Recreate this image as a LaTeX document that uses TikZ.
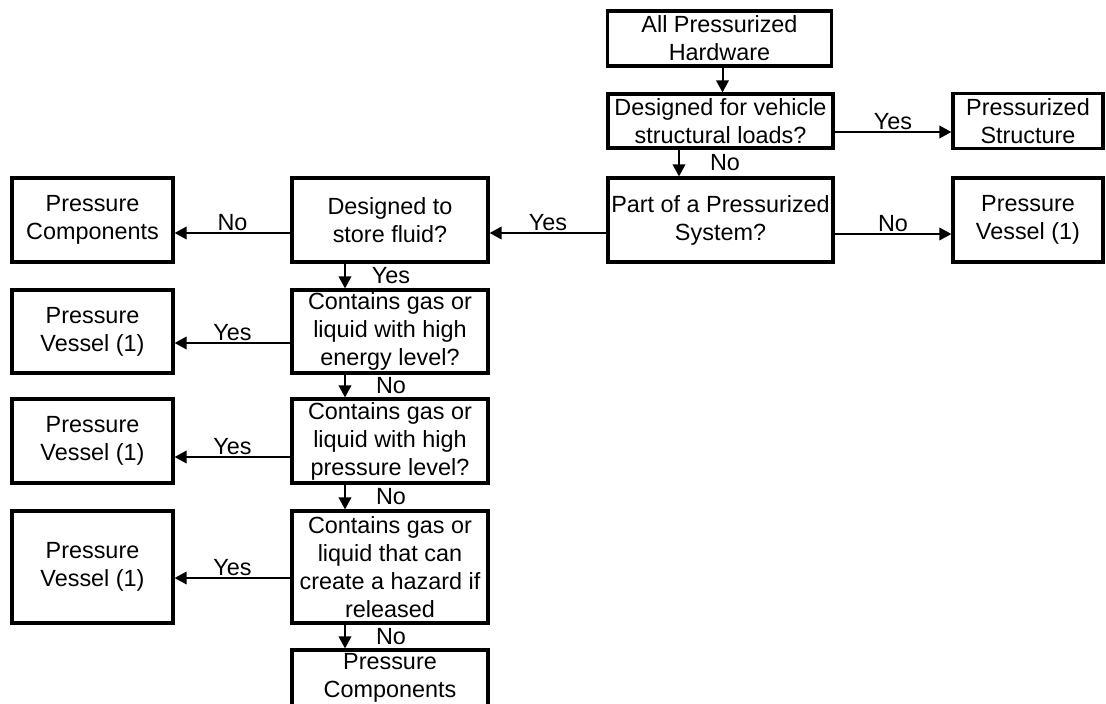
\documentclass[tikz,border=0pt]{standalone}
\usepackage{fontspec}
\setmainfont{Liberation Sans}
\usetikzlibrary{arrows.meta,calc}

\begin{document}
\begin{tikzpicture}[x=1pt,y=-1pt,line width=2pt,>={Triangle[length=12pt,width=12.5pt]},font=\fontsize{23.4}{28}\selectfont]
		\tikzstyle{flow_box}=[draw, rectangle, line width=3.2pt, align=center, inner sep=1pt];
		\tikzstyle{flow_q}=[flow_box, minimum width=196pt, minimum height=84pt];
		\tikzstyle{flow_side}=[flow_box, minimum width=161pt, minimum height=84pt];
		\tikzstyle{side_label}=[anchor=base, yshift=3pt, inner sep=0pt];
		\tikzstyle{down_label}=[xshift=46pt, inner sep=0pt];

		\useasboundingbox (0,0) rectangle (1106,704);

		% top column
		\node[flow_box, minimum width=224pt, minimum height=55pt] (hw) at (719.5,38.5) {All Pressurized\\Hardware};
		\node[flow_box, minimum width=225pt, minimum height=54pt] (loads) at (720.5,121) {Designed for vehicle\\structural loads?};
		\node[flow_box, minimum width=150pt, minimum height=55pt] (struct) at (1028,121) {Pressurized\\Structure};
		\node[flow_box, minimum width=225pt, minimum height=84pt] (sys) at (720.5,220) {Part of a Pressurized\\System?};
		\node[flow_box, minimum width=150pt, minimum height=84pt] (pv_sys) at (1028,220) {Pressure\\Vessel (1)};

		% left column
		\node[flow_q] (store) at (390,220) {Designed to\\store fluid?};
		\node[flow_side] (pc_store) at (92.5,220) {Pressure\\Components};
		\node[flow_q, minimum height=83pt] (energy) at (390,331.5) {Contains gas or\\liquid with high\\energy level?};
		\node[flow_side, minimum height=83pt] (pv_energy) at (92.5,331.5) {Pressure\\Vessel (1)};
		\node[flow_q] (press) at (390,441) {Contains gas or\\liquid with high\\pressure level?};
		\node[flow_side] (pv_press) at (92.5,441) {Pressure\\Vessel (1)};
		\node[flow_q, minimum height=112pt] (hazard) at (390,567) {Contains gas or\\liquid that can\\create a hazard if\\released};
		\node[flow_side, minimum height=112pt] (pv_hazard) at (92.5,567) {Pressure\\Vessel (1)};
		\node[flow_q, minimum height=56pt] (pc_end) at (390,678) {Pressure\\Components};

		\draw[->] ($(hw.south)+(3,0)$) -- ($(loads.north)+(2,0)$);
		\draw[->] ($(loads.east)+(0,11)$) -- ($(struct.west)+(0,11)$) node[midway, side_label] {Yes};
		\draw[->] ($(loads.south)+(-41.5,0)$) -- ($(sys.north)+(-41.5,0)$) node[midway, down_label] {No};
		\draw[->] ($(sys.east)+(0,14)$) -- ($(pv_sys.west)+(0,14)$) node[midway, side_label] {No};
		\draw[->] ($(sys.west)+(0,13)$) -- ($(store.east)+(0,13)$) node[midway, side_label] {Yes};
		\draw[->] ($(store.west)+(0,13)$) -- ($(pc_store.east)+(0,13)$) node[midway, side_label] {No};

		\draw[->] ($(store.south)+(-45,0)$) -- ($(energy.north)+(-45,0)$) node[midway, down_label] {Yes};
		\draw[->] ($(energy.west)+(0,11.5)$) -- ($(pv_energy.east)+(0,11.5)$) node[midway, side_label] {Yes};
		\draw[->] ($(energy.south)+(-45,0)$) -- ($(press.north)+(-45,0)$) node[midway, down_label] {No};
		\draw[->] ($(press.west)+(0,16)$) -- ($(pv_press.east)+(0,16)$) node[midway, side_label] {Yes};
		\draw[->] ($(press.south)+(-45,0)$) -- ($(hazard.north)+(-45,0)$) node[midway, down_label] {No};
		\draw[->] ($(hazard.west)+(0,11)$) -- ($(pv_hazard.east)+(0,11)$) node[midway, side_label] {Yes};
		\draw[->] ($(hazard.south)+(-45,0)$) -- ($(pc_end.north)+(-45,0)$) node[midway, down_label] {No};
\end{tikzpicture}
\end{document}
